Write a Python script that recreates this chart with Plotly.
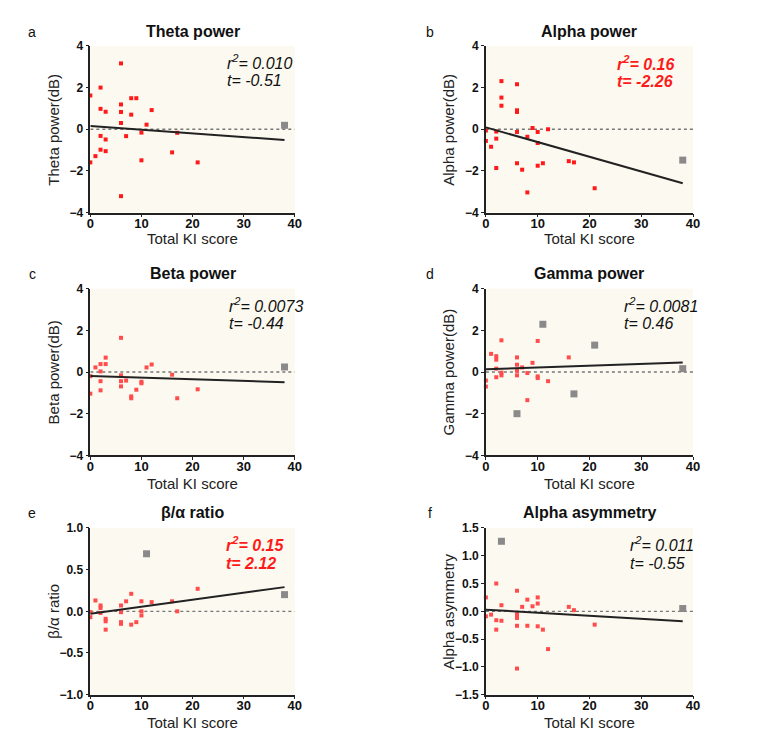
import plotly.graph_objects as go

# ---------------- data ----------------
theta_x = [0, 0, 1, 2, 2, 2, 2, 3, 3, 3, 6, 6, 6, 6, 6, 7, 8, 8, 9, 10, 10, 11, 12, 16, 17, 21]
theta_y = [1.62, -1.59, -1.29, 2.0, 0.98, -0.32, -0.98, 0.84, -0.49, -1.05, 3.16, 1.19, 0.83, 0.30, -3.21,
           -0.33, 1.49, 0.70, 1.49, -0.16, -1.49, 0.22, 0.92, -1.11, -0.17, -1.59]
theta_out_x = [38]
theta_out_y = [0.19]
theta_fit_y = [0.16, -0.52]

alpha_x = [0, 0, 1, 2, 2, 2, 3, 3, 3, 6, 6, 6, 6, 6, 7, 8, 8, 9, 10, 10, 10, 11, 12, 16, 17, 21]
alpha_y = [-0.06, -0.56, -0.84, -0.11, -0.45, -1.86, 2.31, 1.52, 1.13, 2.16, 0.91, 0.83, -0.13, -1.63,
           -1.94, -0.36, -3.03, 0.06, -0.13, -0.66, -1.75, -1.63, 0.0, -1.53, -1.59, -2.83]
alpha_out_x = [38]
alpha_out_y = [-1.48]
alpha_fit_y = [0.09, -2.59]

beta_x = [0, 0, 1, 2, 2, 2, 2, 3, 3, 6, 6, 6, 6, 7, 8, 8, 9, 10, 10, 11, 12, 16, 17, 21]
beta_y = [-0.20, -1.04, 0.22, 0.38, 0.03, -0.44, -0.88, 0.69, 0.38, 1.64, -0.16, -0.44, -0.69, -0.41,
          -1.17, -1.26, -0.85, -0.47, -0.54, 0.22, 0.36, -0.13, -1.26, -0.83]
beta_out_x = [38]
beta_out_y = [0.24]
beta_fit_y = [-0.19, -0.49]

gamma_x = [0, 0, 1, 2, 2, 2, 2, 3, 3, 3, 6, 6, 6, 6, 7, 8, 8, 9, 10, 10, 10, 12, 16]
gamma_y = [-0.41, -0.70, 0.87, 0.76, 0.59, 0.16, -0.25, 1.52, -0.03, -0.16, 0.70, 0.35, 0.06, -0.16,
           0.22, -0.05, -1.35, 0.44, 1.49, -0.21, -0.29, -0.44, 0.70]
gamma_out_x = [11, 6, 17, 21, 38]
gamma_out_y = [2.29, -2.0, -1.05, 1.29, 0.16]
gamma_fit_y = [0.13, 0.46]

ratio_x = [0, 0, 1, 2, 2, 2, 3, 3, 3, 6, 6, 6, 6, 7, 8, 8, 9, 10, 10, 10, 12, 16, 17, 21]
ratio_y = [-0.01, -0.07, 0.13, 0.07, 0.04, -0.02, -0.09, -0.12, -0.22, 0.07, -0.01, -0.13, -0.15, 0.12,
           0.21, -0.16, -0.13, 0.12, 0.0, -0.05, 0.11, 0.12, 0.0, 0.27]
ratio_out_x = [11, 38]
ratio_out_y = [0.69, 0.20]
ratio_fit_y = [-0.03, 0.29]

asym_x = [0, 0, 1, 2, 2, 2, 3, 3, 6, 6, 6, 6, 6, 7, 8, 8, 9, 10, 10, 10, 11, 12, 16, 17, 21]
asym_y = [0.25, -0.09, -0.06, 0.50, -0.16, -0.33, 0.11, -0.17, 0.37, -0.05, -0.12, -0.26, -1.03, 0.08,
          0.21, -0.26, 0.09, 0.25, 0.14, -0.27, -0.33, -0.68, 0.08, 0.02, -0.24]
asym_out_x = [3, 38]
asym_out_y = [1.26, 0.05]
asym_fit_y = [0.03, -0.18]

fit_x = [0, 38]

titles = ["Theta power", "Alpha power", "Beta power", "Gamma power", "β/α ratio", "Alpha asymmetry"]
ylabels = ["Theta power(dB)", "Alpha power(dB)", "Beta power(dB)", "Gamma power(dB)", "β/α ratio",
           "Alpha asymmetry"]
panel_letters = ["a", "b", "c", "d", "e", "f"]
r2_texts = ["0.010", "0.16", "0.0073", "0.0081", "0.15", "0.011"]
t_texts = ["-0.51", "-2.26", "-0.44", "0.46", "2.12", "-0.55"]
significant = [False, True, False, False, True, False]

x_ticks = [0, 10, 20, 30, 40]
y_ticks_power = [-4, -2, 0, 2, 4]
y_ticks_ratio = [-1.0, -0.5, 0.0, 0.5, 1.0]
y_ticks_asym = [-1.5, -1.0, -0.5, 0.0, 0.5, 1.0, 1.5]

# ---------------- layout geometry ----------------
OFF = 8  # default page body margin (all sides)
W, H = 761 - 2 * OFF, 744 - 2 * OFF
FONT = "Liberation Sans, Arial, sans-serif"
col_px = [(87.5, 295.0), (489.0, 699.3)]
row_px = [(39.5, 209.5), (287.0, 457.0), (531.0, 701.0)]


def px_x(v):
    return (v - OFF) / W


def px_y(v):
    return 1 - (v - OFF) / H


panels = [
    dict(x=theta_x, y=theta_y, ox=theta_out_x, oy=theta_out_y, fy=theta_fit_y, rng=[-4, 4],
         ticks=y_ticks_power, fmt=None, ann=(26.4, 3.23, 2.33), red="#ff1a1a"),
    dict(x=alpha_x, y=alpha_y, ox=alpha_out_x, oy=alpha_out_y, fy=alpha_fit_y, rng=[-4, 4],
         ticks=y_ticks_power, fmt=None, ann=(25.0, 3.19, 2.27), red="#ff1a1a"),
    dict(x=beta_x, y=beta_y, ox=beta_out_x, oy=beta_out_y, fy=beta_fit_y, rng=[-4, 4],
         ticks=y_ticks_power, fmt=None, ann=(26.8, 3.21, 2.31), red="#ff4d4d"),
    dict(x=gamma_x, y=gamma_y, ox=gamma_out_x, oy=gamma_out_y, fy=gamma_fit_y, rng=[-4, 4],
         ticks=y_ticks_power, fmt=None, ann=(26.3, 3.23, 2.32), red="#ff4d4d"),
    dict(x=ratio_x, y=ratio_y, ox=ratio_out_x, oy=ratio_out_y, fy=ratio_fit_y, rng=[-1, 1],
         ticks=y_ticks_ratio, fmt=".1f", ann=(26.2, 0.81, 0.575), red="#ff4d4d"),
    dict(x=asym_x, y=asym_y, ox=asym_out_x, oy=asym_out_y, fy=asym_fit_y, rng=[-1.5, 1.5],
         ticks=y_ticks_asym, fmt=".1f", ann=(27.35, 1.21, 0.865), red="#ff4d4d"),
]

fig = go.Figure()
annotations = []
shapes = []
layout_axes = {}

for i, p in enumerate(panels):
    r, c = divmod(i, 2)
    x0p, x1p = col_px[c]
    y0p, y1p = row_px[r]
    n = i + 1
    xa = "x" if n == 1 else f"x{n}"
    ya = "y" if n == 1 else f"y{n}"
    xkey = "xaxis" if n == 1 else f"xaxis{n}"
    ykey = "yaxis" if n == 1 else f"yaxis{n}"

    layout_axes[xkey] = dict(
        domain=[px_x(x0p), px_x(x1p)], anchor=ya, range=[0, 40], tickvals=x_ticks,
        showgrid=False, zeroline=False, showline=True, linecolor="#222222", linewidth=1.6,
        ticks="outside", ticklen=3, tickwidth=1.2, tickcolor="#222222",
        tickfont=dict(family=FONT, size=13, color="#111111", weight="bold"),
        ticklabelstandoff=-5,
        fixedrange=True,
    )
    yaxis = dict(
        domain=[px_y(y1p), px_y(y0p)], anchor=xa, range=p["rng"], tickvals=p["ticks"],
        showgrid=False, zeroline=False, showline=True, linecolor="#222222", linewidth=1.6,
        ticks="outside", ticklen=3, tickwidth=1.2, tickcolor="#222222",
        tickfont=dict(family=FONT, size=12, color="#111111", weight="bold"),
        fixedrange=True,
    )
    if p["fmt"]:
        yaxis["tickformat"] = p["fmt"]
    layout_axes[ykey] = yaxis

    # dotted zero line
    shapes.append(dict(type="line", xref=xa, yref=ya, x0=0, x1=40, y0=0, y1=0,
                       line=dict(color="#777777", width=1.3, dash="dot"), layer="below"))

    fig.add_trace(go.Scatter(x=p["x"], y=p["y"], xaxis=xa, yaxis=ya, mode="markers",
                             marker=dict(symbol="square", size=4, color=p["red"], line=dict(width=0)),
                             cliponaxis=False, showlegend=False, hoverinfo="skip"))
    fig.add_trace(go.Scatter(x=p["ox"], y=p["oy"], xaxis=xa, yaxis=ya, mode="markers",
                             marker=dict(symbol="square", size=7, color="#8a8a8a", line=dict(width=0)),
                             cliponaxis=False, showlegend=False, hoverinfo="skip"))
    fig.add_trace(go.Scatter(x=fit_x, y=p["fy"], xaxis=xa, yaxis=ya, mode="lines",
                             line=dict(color="#222222", width=2),
                             cliponaxis=False, showlegend=False, hoverinfo="skip"))

    # r^2 and t annotations
    ax, ry, ty = p["ann"]
    if significant[i]:
        col = "#ff1a1a"
        r2 = f"<b><i>r<sup>2</sup>= {r2_texts[i]}</i></b>"
        tt = f"<b><i>t= {t_texts[i]}</i></b>"
    else:
        col = "#111111"
        r2 = f"<i>r<sup>2</sup>= {r2_texts[i]}</i>"
        tt = f"<i>t= {t_texts[i]}</i>"
    for txt, yy in ((r2, ry), (tt, ty)):
        annotations.append(dict(text=txt, xref=xa, yref=ya, x=ax, y=yy, xanchor="left",
                                yanchor="middle", showarrow=False,
                                font=dict(family=FONT, size=16, color=col)))

    cx = (x0p + x1p) / 2
    cy = (y0p + y1p) / 2
    title_y = [25, 272, 515.5][r]
    letter_x = [28.5, 432.5][c]
    xlab_y = [236, 486, 729][r]
    ylab_x = [50, 451][c]

    # panel title
    annotations.append(dict(text=f"<b>{titles[i]}</b>", xref="paper", yref="paper",
                            x=px_x(cx), y=px_y(title_y), xanchor="center", yanchor="middle",
                            showarrow=False, font=dict(family=FONT, size=16, color="#111111")))
    # panel letter
    annotations.append(dict(text=panel_letters[i], xref="paper", yref="paper",
                            x=px_x(letter_x), y=px_y(title_y), xanchor="center", yanchor="middle",
                            showarrow=False, font=dict(family=FONT, size=14, color="#111111")))
    # x axis title
    annotations.append(dict(text="Total KI score", xref="paper", yref="paper",
                            x=px_x(cx), y=px_y(xlab_y), xanchor="center", yanchor="middle",
                            showarrow=False, font=dict(family=FONT, size=15, color="#222222")))
    # y axis title
    annotations.append(dict(text=ylabels[i], xref="paper", yref="paper", textangle=-90,
                            x=px_x(ylab_x), y=px_y(cy), xanchor="center", yanchor="middle",
                            showarrow=False, font=dict(family=FONT, size=15, color="#222222")))

fig.update_layout(
    width=W, height=H, autosize=False,
    margin=dict(l=0, r=0, t=0, b=0),
    paper_bgcolor="white", plot_bgcolor="#fcfaf0",
    annotations=annotations, shapes=shapes, showlegend=False,
    **layout_axes,
)

fig.write_html("out.html", config={"displayModeBar": False})
